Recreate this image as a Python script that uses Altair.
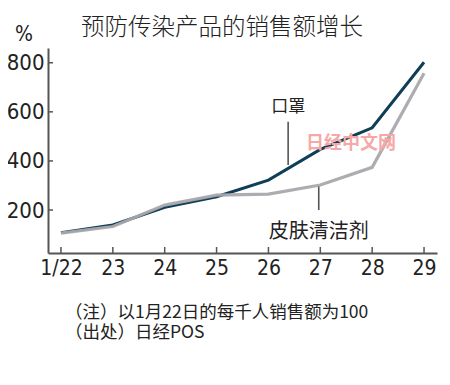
import altair as alt
import pandas as pd

# ---- data ----
days = [22, 23, 24, 25, 26, 27, 28, 29]
mask = [108, 139, 211, 254, 322, 447, 535, 802]          # 口罩
cleanser = [106, 133, 220, 261, 265, 302, 374, 757]      # 皮肤清洁剂
y_ticks = [200, 400, 600, 800]
title_text = "预防传染产品的销售额增长"
unit_text = "%"
note1 = "（注）以1月22日的每千人销售额为100"
note2 = "（出处）日经POS"
mask_label = "口罩"
cleanser_label = "皮肤清洁剂"
watermark = "日经中文网"

# annotation anchors (data units)
mask_ann = {"x": 26.38, "y_text": 618, "y_top": 560, "y_bot": 383}
cl_ann = {"x": 26.97, "y_text": 110, "y_top": 296, "y_bot": 200}
wm_pos = {"x": 27.59, "y": 469}

W, H = 389, 205
NUM_FONT = "Liberation Sans Narrow, DejaVu Sans Condensed, Arial Narrow, sans-serif"
CJK_FONT = "Noto Sans CJK SC, sans-serif"
AXIS_COLOR = "#555555"

xs = alt.Scale(domain=[21.75, 29.25], nice=False, zero=False)
ys = alt.Scale(domain=[25, 860], nice=False, zero=False)

x_axis = alt.Axis(orient="bottom", values=days,
                  labelExpr="datum.value == 22 ? '1/22' : '' + datum.value",
                  ticks=False, domainColor=AXIS_COLOR, domainWidth=2, grid=False, title=None,
                  labelFont=NUM_FONT, labelFontSize=21, labelColor="#222222", labelPadding=4)
y_axis = alt.Axis(orient="left", values=y_ticks, ticks=False, domainColor=AXIS_COLOR,
                  domainWidth=2, grid=False, title=None, labelFont=NUM_FONT, labelFontSize=22,
                  labelColor="#222222", labelPadding=4)


def X(field):
    return alt.X(field, scale=xs, axis=x_axis, title=None)


def Y(field):
    return alt.Y(field, scale=ys, axis=y_axis, title=None)


df = pd.DataFrame({"day": days, "mask": mask, "cleanser": cleanser})
base = alt.Chart(df)

mask_line = base.mark_line(color="#0f3e57", strokeWidth=3).encode(
    x=X("day:Q"), y=Y("mask:Q"))
cl_line = base.mark_line(color="#a9a8ad", strokeWidth=3.2, opacity=0.95).encode(
    x=X("day:Q"), y=Y("cleanser:Q"))

# inward tick marks
xt = alt.Chart(pd.DataFrame({"day": days})).mark_rule(color=AXIS_COLOR, strokeWidth=1.5).encode(
    x=X("day:Q"), y=alt.value(H), y2=alt.value(H - 6))
yt = alt.Chart(pd.DataFrame({"v": y_ticks})).mark_rule(color=AXIS_COLOR, strokeWidth=1.5).encode(
    y=Y("v:Q"), x=alt.value(0), x2=alt.value(5))

# annotation leaders and labels
ann = pd.DataFrame({
    "x": [mask_ann["x"], cl_ann["x"]],
    "y1": [mask_ann["y_top"], cl_ann["y_top"]],
    "y2": [mask_ann["y_bot"], cl_ann["y_bot"]],
    "ty": [mask_ann["y_text"], cl_ann["y_text"]],
    "label": [mask_label, cleanser_label],
})
leaders = alt.Chart(ann).mark_rule(color="#555555", strokeWidth=1.6).encode(
    x=X("x:Q"), y=Y("y1:Q"), y2="y2:Q")
labels_m = alt.Chart(ann.iloc[[0]]).mark_text(font=CJK_FONT, fontSize=17, color="#222222").encode(
    x=X("x:Q"), y=Y("ty:Q"), text="label:N")
labels_c = alt.Chart(ann.iloc[[1]]).mark_text(font=CJK_FONT, fontSize=20, color="#222222").encode(
    x=X("x:Q"), y=Y("ty:Q"), text="label:N")

wm = alt.Chart(pd.DataFrame({"x": [wm_pos["x"]], "y": [wm_pos["y"]], "t": [watermark]})).mark_text(
    font=CJK_FONT, fontSize=18, fontWeight="bold", color="#f6a8a8").encode(
    x=X("x:Q"), y=Y("y:Q"), text="t:N")

# title, unit and notes (outside the plot area)
title = alt.Chart(pd.DataFrame({"t": [title_text]})).mark_text(
    font=CJK_FONT, fontSize=23.5, fontWeight=300, color="#222222", baseline="middle").encode(
    x=alt.value(174), y=alt.value(-20), text="t:N")
unit = alt.Chart(pd.DataFrame({"t": [unit_text]})).mark_text(
    font=NUM_FONT, fontSize=21, color="#222222", baseline="middle").encode(
    x=alt.value(-24), y=alt.value(-13), text="t:N")
n1 = alt.Chart(pd.DataFrame({"t": [note1]})).mark_text(
    font=CJK_FONT, fontSize=17.5, color="#222222", align="left", baseline="middle").encode(
    x=alt.value(17), y=alt.value(265), text="t:N")
n2 = alt.Chart(pd.DataFrame({"t": [note2]})).mark_text(
    font=CJK_FONT, fontSize=17.5, color="#222222", align="left", baseline="middle").encode(
    x=alt.value(17), y=alt.value(285), text="t:N")

chart = alt.layer(
    mask_line, cl_line, xt, yt, leaders, labels_m, labels_c, wm, title, unit, n1, n2
).properties(
    width=W, height=H,
    autosize=alt.AutoSizeParams(type="none"),
    padding={"left": 40, "top": 40, "right": 5, "bottom": 100},
    background="white",
).configure_view(stroke=None)

chart.save("out.html", embed_options={"renderer": "svg", "actions": False})
